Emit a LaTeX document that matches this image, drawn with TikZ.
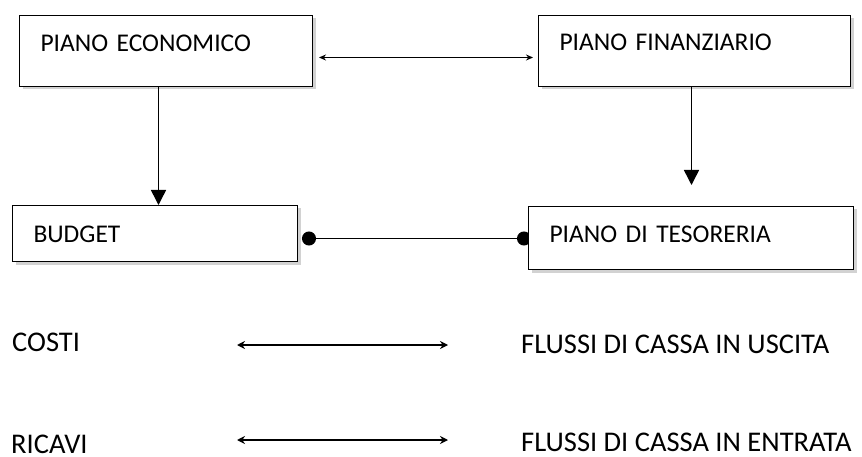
\documentclass[tikz,border=0pt]{standalone}
\usepackage{fontspec}
\setmainfont{Carlito}
\usetikzlibrary{arrows.meta,calc,shadows}
\pgfdeclarelayer{background}
\pgfsetlayers{background,main}

\begin{document}
\begin{tikzpicture}[x=1pt,y=-1pt,
  piano/.style={draw,fill=white,line width=1pt,anchor=north west,inner xsep=21pt,inner ysep=0pt,
    font=\fontsize{25.5}{30}\selectfont,drop shadow={shadow xshift=3pt,shadow yshift=-3pt,fill=black!35}},
  voce/.style={anchor=base west,inner sep=0pt,font=\fontsize{28.5}{34}\selectfont}]
  \useasboundingbox (0,0) rectangle (862,457);
  % i quattro piani
  \node[piano,text width=251pt,text height=35.7pt,text depth=35.3pt] (pe) at (19,15) {PIANO ECONOMICO};
  \node[piano,text width=270pt,text height=35pt,text depth=36pt] (pf) at (538,15) {PIANO FINANZIARIO};
  \node[piano,text width=243pt,text height=36.7pt,text depth=19.3pt] (budget) at (12,205) {BUDGET};
  \node[piano,text width=283pt,text height=36pt,text depth=27pt] (pdt) at (528,206) {PIANO DI TESORERIA};
  % voci in basso
  \node[voce] (costi) at (12,351.5) {COSTI};
  \node[voce] (uscita) at (521,353) {FLUSSI DI CASSA IN USCITA};
  \node[voce] (ricavi) at (11,453) {RICAVI};
  \node[voce] (entrata) at (521,451) {FLUSSI DI CASSA IN ENTRATA};
  \coordinate (pfend) at ($(pf.south)+(-3,98)$);
  \coordinate (c1a) at (237,345);
  \coordinate (c1b) at (448,345);
  \coordinate (c2a) at (237,440);
  \coordinate (c2b) at (448,440);
  \path[{Stealth[length=7pt,width=6pt]}-{Stealth[length=7pt,width=6pt]},line width=1.6pt]
    ([xshift=6pt,yshift=-6.5pt]pe.east) edge ([xshift=-5pt,yshift=-6.5pt]pf.west);
  \path[-{Triangle[length=15pt,width=15pt]},line width=1.5pt]
    ([xshift=-7.5pt]pe.south) edge ([xshift=-7.5pt]pe.south |- budget.north)
    ([xshift=-3pt]pf.south) edge (pfend);
  \begin{pgfonlayer}{background}
    \path[{Circle[length=14pt]}-{Circle[length=14pt]},line width=1.5pt]
      ([xshift=4pt,yshift=-5pt]budget.east) edge ([xshift=3pt,yshift=-0.5pt]pdt.west);
  \end{pgfonlayer}
  \path[{Stealth[length=8pt,width=8pt]}-{Stealth[length=8pt,width=8pt]},line width=2pt]
    (c1a) edge (c1b)
    (c2a) edge (c2b);
\end{tikzpicture}
\end{document}
